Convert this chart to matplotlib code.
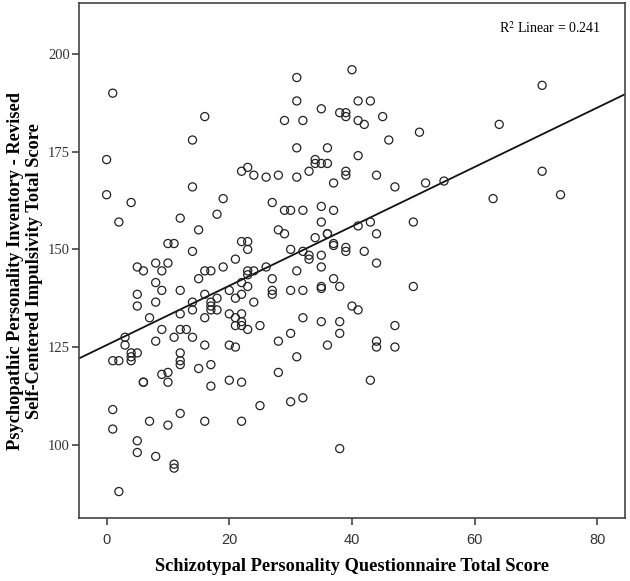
import numpy as np
import matplotlib
matplotlib.use("Agg")
import matplotlib.pyplot as plt

# SPQ total score (x) and PPI-R self-centered impulsivity score (y)
spq = [
    1, 16, 14, 0, 23, 22, 24, 26,
    40, 31, 31, 41, 43, 35, 38, 39, 39, 29, 32, 41, 42, 45, 51, 46, 31, 36, 41,
    34, 34, 35, 36, 33, 39, 39, 28, 31, 44,
    71, 64, 71, 55, 63, 74,
    37, 47, 52, 27, 29, 30, 32, 35, 37, 35, 41, 43, 50, 28, 29, 44, 34, 36, 36,
    37, 37, 39, 39, 30, 32, 33, 33, 35, 42, 44, 26, 31, 35, 27, 37, 27, 27, 30,
    32, 35, 35, 38, 50, 40, 41, 32, 25, 35, 38, 47, 30, 38, 28, 36, 44, 44, 47,
    31, 28, 43, 25, 30, 32, 38,
    14, 0, 4, 19, 2, 12, 18, 15, 10, 11, 22, 23, 23, 14, 21, 5, 6, 8, 10, 9,
    16, 17, 19, 23, 24, 23, 15, 8, 9, 12, 22, 23, 20, 21, 22, 16, 18, 5, 5, 8,
    14, 17, 17, 17, 18, 24, 12, 14, 7, 16, 20, 21, 22, 22, 22, 21, 23, 9, 12, 13,
    11, 14, 3, 8, 3, 16, 20, 21,
    4, 4, 4, 5, 1, 2, 12, 12, 12, 15, 17, 9, 10, 6, 6, 10, 17, 20, 22, 1, 1, 7,
    10, 12, 16, 22, 5, 5, 8, 11, 11, 2,
]
ppi = [
    190, 184, 178, 173, 171, 170, 169, 168.5,
    196, 194, 188, 188, 188, 186, 185, 185, 184, 183, 183, 183, 182, 184, 180, 178, 176, 176, 174,
    173, 172, 172, 172, 170, 170, 169, 169, 168.5, 169,
    192, 182, 170, 167.5, 163, 164,
    167, 166, 167, 162, 160, 160, 160, 161, 160, 157, 156, 157, 157, 155, 154, 154, 153, 154, 154,
    151.5, 151, 150.5, 149.5, 150, 149.5, 148.5, 147.5, 148.5, 149.5, 146.5, 145.5, 144.5, 145.5, 142.5, 142.5, 139.5, 138.5, 139.5,
    139.5, 140.5, 140, 140.5, 140.5, 135.5, 134.5, 132.5, 130.5, 131.5, 131.5, 130.5, 128.5, 128.5, 126.5, 125.5, 126.5, 125, 125,
    122.5, 118.5, 116.5, 110, 111, 112, 99,
    166, 164, 162, 163, 157, 158, 159, 155, 151.5, 151.5, 152, 152, 150, 149.5, 147.5, 145.5, 144.5, 146.5, 146.5, 144.5,
    144.5, 144.5, 145.5, 144.5, 144.5, 143.5, 142.5, 141.5, 139.5, 139.5, 141.5, 140.5, 139.5, 137.5, 138.5, 138.5, 137.5, 138.5, 135.5, 136.5,
    136.5, 136.5, 135.5, 134.5, 134.5, 136.5, 133.5, 134.5, 132.5, 132.5, 133.5, 132.5, 133.5, 131.5, 130.5, 130.5, 129.5, 129.5, 129.5, 129.5,
    127.5, 127.5, 127.5, 126.5, 125.5, 125.5, 125.5, 125,
    123.5, 122.5, 121.5, 123.5, 121.5, 121.5, 123.5, 121.5, 120.5, 119.5, 120.5, 118, 118.5, 116, 116, 116, 115, 116.5, 116, 109, 104, 106,
    105, 108, 106, 106, 101, 98, 97, 95, 94, 88,
]

# fit line as shown on the chart
fit_intercept = 125.5
fit_slope = 0.76
r2_text = "R$^2$ Linear = 0.241"

x_ticks = [0, 20, 40, 60, 80]
y_ticks = [100, 125, 150, 175, 200]
x_lim = (-4.5, 84.5)
y_lim = (81.3, 213)

plt.rcParams["mathtext.fontset"] = "stix"

fig = plt.figure(figsize=(6.3, 5.81), dpi=100)
ax = fig.add_axes([0.1254, 0.1089, 0.8666, 0.8854])

ax.scatter(spq, ppi, s=34, facecolors="none", edgecolors="#222222", linewidths=0.9, zorder=3)

xs = np.array(x_lim)
ax.plot(xs, fit_intercept + fit_slope * xs, color="#111111", lw=1.3, zorder=2)

ax.set_xlim(*x_lim)
ax.set_ylim(*y_lim)
ax.set_xticks(x_ticks)
ax.set_yticks(y_ticks)

for side in ["left", "right", "top", "bottom"]:
    ax.spines[side].set_color("#444444")
    ax.spines[side].set_linewidth(1.2)
ax.tick_params(direction="out", length=5, width=1.2, color="#444444")
ax.tick_params(axis="x", labelsize=10.5, labelcolor="#333333", pad=6)
ax.tick_params(axis="y", labelsize=10.5, labelcolor="#333333", pad=1.5)
for lbl in ax.get_xticklabels():
    lbl.set_fontfamily("Liberation Sans")
for lbl in ax.get_yticklabels():
    lbl.set_fontfamily("Liberation Serif")

ax.set_xlabel("Schizotypal Personality Questionnaire Total Score",
              family="Liberation Serif", fontweight="bold", fontsize=13.2, labelpad=8)
ax.set_ylabel("Psychopathic Personality Inventory - Revised\nSelf-Centered Impulsivity Total Score",
              family="Liberation Serif", fontweight="bold", fontsize=13.2,
              linespacing=1.15)
ax.yaxis.set_label_coords(-0.066, 0.48)

ax.text(0.955, 0.968, r2_text, transform=ax.transAxes, ha="right", va="top",
        family="Liberation Serif", fontsize=10)

fig.savefig("out.png", dpi=100)
